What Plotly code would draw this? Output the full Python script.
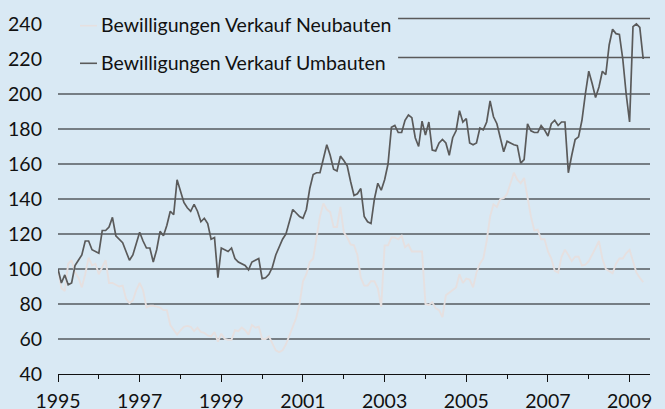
import plotly.graph_objects as go

start_year = 1995
umbauten = [
    100, 92, 96.6, 91, 92, 102, 105, 108, 116, 116, 111, 110,
    109, 122, 122, 124, 129.5, 119, 117, 115, 110, 105, 108, 114,
    121, 116, 112, 112, 104, 111, 121.5, 119, 125, 133, 131, 151,
    144, 138, 135, 133, 137, 133, 127, 129, 126, 117, 118, 95,
    112, 111, 110, 112, 106, 104, 103, 102, 99.5, 104, 105, 106,
    94.5, 95, 97, 101, 108, 113, 117, 120, 127, 134, 132, 130,
    129, 134, 146, 154, 155, 155, 163, 171, 165, 157, 156, 164.5,
    162, 159, 150, 142, 143, 146, 130, 127, 126, 140, 149, 145,
    151, 160, 181, 182, 178, 178, 185, 188, 186.5, 175, 170, 184.5,
    176.5, 184, 168, 167.5, 172, 174, 172, 165, 175, 179, 190.5, 184,
    186, 172, 171, 172, 180.5, 179.5, 184, 196, 187, 183, 175, 167,
    173, 172, 171, 170.5, 160.5, 162.5, 183, 179, 178, 178, 182, 179.5,
    176, 183, 185, 182, 184, 184, 155, 165, 174, 175.5, 185, 200,
    213, 206, 198, 204, 213, 211, 228, 237, 234.5, 234, 220, 200,
    184, 238.5, 240, 238, 220,
]
neubauten = [
    100, 89, 87.5, 103, 105, 98, 95, 89.5, 97, 106.5, 102, 103,
    97, 101, 105, 92, 92, 91, 90, 90.5, 83, 80.5, 82, 88,
    92, 88, 78, 79, 79, 78.5, 78, 76.5, 76.5, 68, 65, 62.5,
    65, 67, 67.5, 67, 64.5, 66.5, 64, 63.5, 62, 61.5, 64, 58.5,
    63, 60, 59.5, 59.5, 65, 64.5, 66.5, 65, 62.5, 68, 66.5, 67,
    60, 60, 61.5, 57.5, 53.5, 52.5, 53.5, 57, 62, 67, 72, 80,
    93, 97, 104, 106, 117, 130, 137.5, 134, 132.5, 124, 124, 135.5,
    121, 118, 114, 113.5, 108, 95, 90.5, 90.5, 93, 93, 89, 78.5,
    113.5, 113.5, 118, 118, 117, 119, 112.5, 114, 110, 110, 110, 110,
    80, 79.5, 81, 77.5, 76.5, 72.5, 85, 86.5, 88.5, 89.5, 97, 92,
    94.5, 94, 89.5, 98, 103, 106, 116, 130, 137, 135.5, 140, 140.5,
    143, 149, 155, 151, 149, 152, 141, 130, 122, 122.5, 117, 117,
    110, 106, 99, 98, 107, 111, 108, 104.5, 107, 107, 102, 102.5,
    104.5, 108, 112, 116, 106, 100, 98.5, 97.5, 103, 106, 106, 109,
    111, 105, 98, 95, 92.5,
]
months = [start_year + i / 12 for i in range(len(umbauten))]

series_names = ["Bewilligungen Verkauf Neubauten", "Bewilligungen Verkauf Umbauten"]
y_ticks = [40, 60, 80, 100, 120, 140, 160, 180, 200, 220, 240]
grid_values = [60, 80, 100, 120, 140, 160, 180, 200]
x_label_years = [1995, 1997, 1999, 2001, 2003, 2005, 2007, 2009]

BG = "#d9e9f4"
NEU_COLOR = "#e6e0e0"
UMB_COLOR = "#5a5a5a"
FONT = "Lato, Liberation Sans, Arial, sans-serif"
FS = 19.5

fig = go.Figure()
fig.add_trace(go.Scatter(x=months, y=neubauten, mode="lines", name=series_names[0],
                         line=dict(color=NEU_COLOR, width=1.9), showlegend=False))
fig.add_trace(go.Scatter(x=months, y=umbauten, mode="lines", name=series_names[1],
                         line=dict(color=UMB_COLOR, width=1.7), showlegend=False))

shapes = []
for g in grid_values:
    shapes.append(dict(type="line", xref="paper", yref="y", x0=0, x1=1, y0=g, y1=g,
                       line=dict(color="#151515", width=1.2), layer="below"))
# grey rules to the right of the legend
for yv in [243.2, 220.9]:
    shapes.append(dict(type="line", xref="x", yref="y", x0=2003.33, x1=2009.5, y0=yv, y1=yv,
                       line=dict(color="#5a5a5a", width=1.5), layer="below"))

# manual legend
W, H = 592, 357
def px(xp):
    return (xp - 58) / W
def py(yp):
    return (374 - yp) / H

legend_y = [25.7, 63.3]
legend_colors = [NEU_COLOR, UMB_COLOR]
annotations = []
for name, ly, col in zip(series_names, legend_y, legend_colors):
    shapes.append(dict(type="line", xref="paper", yref="paper", x0=px(80), x1=px(97),
                       y0=py(ly), y1=py(ly), line=dict(color=col, width=1.6)))
    annotations.append(dict(xref="paper", yref="paper", x=px(99), y=py(ly - 1),
                            text=name, showarrow=False, xanchor="left", yanchor="middle",
                            font=dict(family=FONT, size=FS, color="#111111")))

fig.update_layout(
    width=665, height=409,
    margin=dict(l=58, r=15, t=17, b=35, autoexpand=False),
    paper_bgcolor=BG, plot_bgcolor=BG,
    font=dict(family=FONT, size=FS, color="#111111"),
    shapes=shapes, annotations=annotations,
    xaxis=dict(range=[1995, 2009.5], tickvals=x_label_years, ticktext=[str(v) for v in x_label_years],
               ticks="outside", ticklen=7, tickwidth=1.3, tickcolor="#111111",
               minor=dict(dtick=1, tick0=1995, ticks="outside", ticklen=4, tickwidth=1.3, tickcolor="#111111"),
               showline=True, linecolor="#111111", linewidth=1.3, showgrid=False, zeroline=False,
               ticklabelstandoff=2, automargin=False, fixedrange=True),
    yaxis=dict(range=[40, 244], tickvals=y_ticks, showgrid=False, zeroline=False,
               showline=False, ticks="", ticklabelstandoff=15, automargin=False, fixedrange=True),
)

fig.write_html("out.html", config={"displayModeBar": False},
               post_script="document.body.style.margin='0px';document.body.style.background='" + BG + "';")
